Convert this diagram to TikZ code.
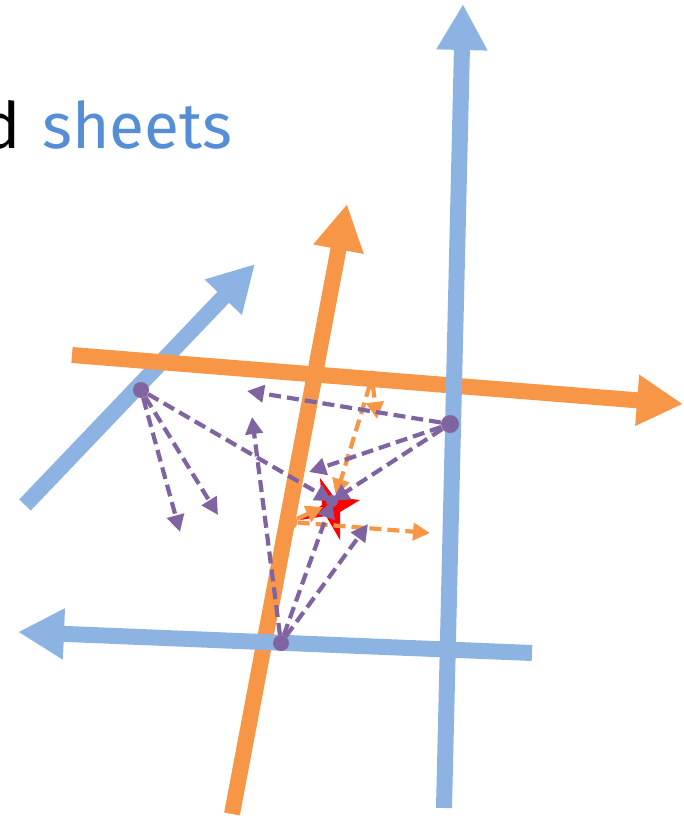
\documentclass[tikz,border=0pt]{standalone}
\usepackage{fontspec}
\setmainfont{Fira Sans}
\usetikzlibrary{arrows.meta}
\definecolor{lblue}{HTML}{8DB3E2}
\definecolor{lorange}{HTML}{F79646}
\definecolor{lpurple}{HTML}{8064A2}
\definecolor{tblue}{HTML}{558ED5}
\begin{document}
\begin{tikzpicture}[x=1pt,y=-1pt,
  bigarrow/.style={line width=16pt,-{Triangle[width=48pt,length=46pt]}},
  pdash/.style={draw=lpurple,line width=4.2pt,dash pattern=on 12pt off 6pt,-{Triangle[width=17pt,length=17pt]}},
  odash/.style={draw=lorange,line width=4.2pt,dash pattern=on 12pt off 6pt,-{Triangle[width=17pt,length=17pt]}},
  pdot/.style={circle,fill=lpurple,inner sep=0pt,minimum size=#1},
  odot/.style={circle,fill=lorange,inner sep=0pt,minimum size=15pt},
  txt/.style={font=\fontsize{64}{68}\selectfont,inner sep=0pt}]
\useasboundingbox (0,0) rectangle (683,819);
% text
\node[txt,anchor=base east] (d) at (21,148) {d};
\node[txt,anchor=base west,text=tblue] (sheets) at (42,148) {sheets};
% big axes
\coordinate (bd1) at (25,505); \coordinate (bd2) at (255,264);
\coordinate (oh1) at (72,355); \coordinate (oh2) at (683,404);
\coordinate (ov1) at (232,814); \coordinate (ov2) at (347,204);
\coordinate (bv1) at (444,808); \coordinate (bv2) at (463,4);
\coordinate (bh1) at (532,653); \coordinate (bh2) at (18,632);
\draw[bigarrow,lblue] (bd1) -- (bd2);
\draw[bigarrow,lorange] (oh1) -- (oh2);
\draw[bigarrow,lorange] (ov1) -- (ov2);
\draw[bigarrow,lblue] (bv1) -- (bv2);
\draw[bigarrow,lblue] (bh1) -- (bh2);
% star
\fill[red] (320,478) -- (334,497) -- (360,500) -- (340,512) -- (340,540) -- (326,516) -- (300,520) -- (322,505) -- cycle;
% points
\node[pdot=16pt] (p1) at (141,390) {};
\node[pdot=18pt] (p2) at (450,424) {};
\node[pdot=16pt] (p3) at (281,643) {};
\node[odot] (o1) at (372,378) {};
\node[odot] (o2) at (290,522) {};
\coordinate (c) at (332,501);
\coordinate (t1) at (180,532);
\coordinate (t2) at (218,515);
\coordinate (t3) at (247,391);
\coordinate (t4) at (309,472);
\coordinate (t5) at (252,417);
\coordinate (t6) at (368,524);
\coordinate (t7) at (377,419);
\coordinate (t8) at (430,533);
\coordinate (c2) at (336,496);
\coordinate (c3) at (323,507);
% orange dashed
\draw[odash] (o1) -- (t7);
\draw[odash] (o1) -- (c2);
\draw[odash] (o2) -- (t8);
\draw[odash] (o2) -- (c3);
% purple dashed
\draw[pdash] (p1) -- (t1);
\draw[pdash] (p1) -- (t2);
\draw[pdash] (p1) -- (c);
\draw[pdash] (p2) -- (t3);
\draw[pdash] (p2) -- (t4);
\draw[pdash] (p2) -- (c);
\draw[pdash] (p3) -- (t5);
\draw[pdash] (p3) -- (c);
\draw[pdash] (p3) -- (t6);
\node[pdot=12pt] (pc) at (c) {};
\end{tikzpicture}
\end{document}
